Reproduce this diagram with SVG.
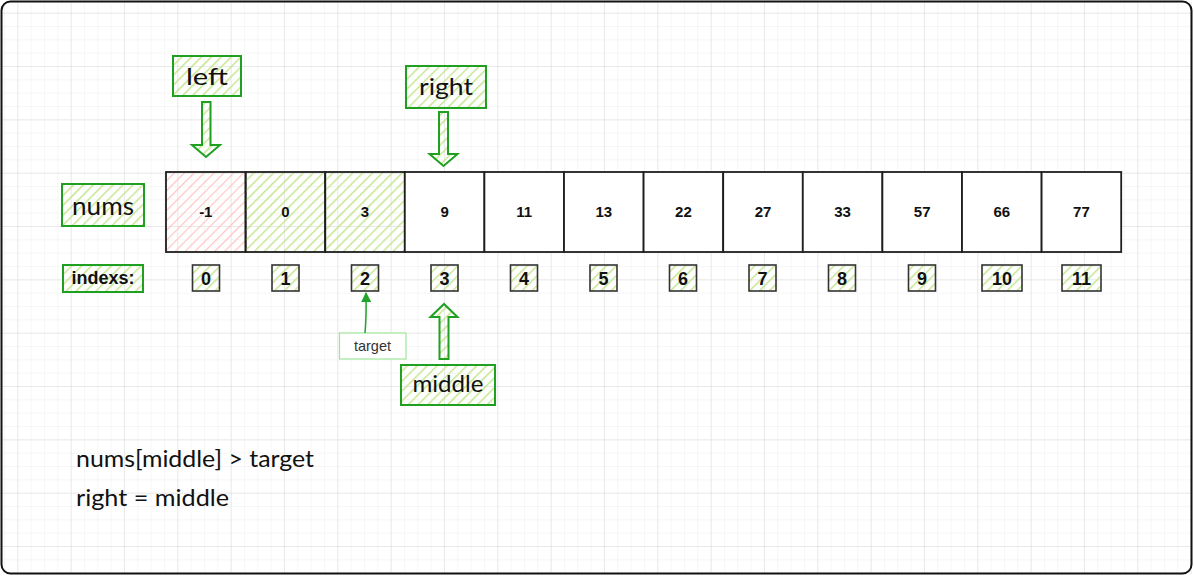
<svg xmlns="http://www.w3.org/2000/svg" width="1194" height="576" viewBox="0 0 1194 576">
<defs>
  <pattern id="gridMinor" x="17.3" y="12.7" width="13.333" height="13.333" patternUnits="userSpaceOnUse">
    <path d="M0 0 H13.333 M0 0 V13.333" fill="none" stroke="#eeeeee" stroke-width="1"/>
  </pattern>
  <pattern id="gridMajor" x="17.3" y="12.7" width="53.333" height="53.333" patternUnits="userSpaceOnUse">
    <path d="M0 0 H53.333 M0 0 V53.333" fill="none" stroke="#dcdcdc" stroke-width="1"/>
  </pattern>
  <pattern id="hatchG" width="7" height="7" patternUnits="userSpaceOnUse" patternTransform="rotate(45)">
    <line x1="0" y1="0" x2="0" y2="7" stroke="#c2e58c" stroke-width="2.8"/>
  </pattern>
  <pattern id="hatchR" width="7" height="7" patternUnits="userSpaceOnUse" patternTransform="rotate(45)">
    <line x1="0" y1="0" x2="0" y2="7" stroke="#ffc4c4" stroke-width="2.4"/>
  </pattern>
  <marker id="arrowG" viewBox="0 0 10 10" refX="9" refY="5" markerWidth="10" markerHeight="10" markerUnits="userSpaceOnUse" orient="auto">
    <path d="M0 0 L10 5 L0 10 Z" fill="#22a32a"/>
  </marker>
</defs>
<style>
  .cell { stroke: #1e1e1e; stroke-width: 1.8; }
  .lbl { fill: url(#hatchG); stroke: #20a020; stroke-width: 2; }
  .idx { fill: url(#hatchG); stroke: #333; stroke-width: 1.6; }
  .blk { fill: url(#hatchG); stroke: #20a020; stroke-width: 2; stroke-linejoin: miter; }
  .hand { font-family: "Lato", "Open Sans", sans-serif; fill: #111; }
  .val { font-family: "Liberation Sans", Arial, sans-serif; font-weight: bold; font-size: 15px; fill: #111; text-anchor: middle; }
  .num { font-family: "Liberation Sans", Arial, sans-serif; font-weight: bold; font-size: 18px; fill: #111; text-anchor: middle; }
</style>
<rect width="1194" height="576" fill="#ffffff"/>
<rect x="2" y="2" width="1190" height="572" fill="url(#gridMinor)"/>
<rect x="2" y="2" width="1190" height="572" fill="url(#gridMajor)"/>
<rect x="1.5" y="1.5" width="1190" height="572" rx="9" fill="none" stroke="#111" stroke-width="2"/>

<g id="label-nums">
  <rect class="lbl" x="62" y="184" width="82" height="42"/>
  <text class="hand" x="103" y="215" font-size="25" text-anchor="middle" textLength="62" lengthAdjust="spacingAndGlyphs">nums</text>
</g>
<g id="label-indexs">
  <rect class="lbl" x="63" y="265" width="80" height="27"/>
  <text x="103" y="284" font-family="Liberation Sans, Arial, sans-serif" font-weight="bold" font-size="18" text-anchor="middle" fill="#111">indexs:</text>
</g>

<g id="cells">
  <g id="cell-0"><rect class="cell" x="166" y="172" width="79.6" height="80" fill="url(#hatchR)"/><text class="val" x="205.8" y="217">-1</text></g>
  <g id="cell-1"><rect class="cell" x="245.6" y="172" width="79.6" height="80" fill="url(#hatchG)"/><text class="val" x="285.4" y="217">0</text></g>
  <g id="cell-2"><rect class="cell" x="325.2" y="172" width="79.6" height="80" fill="url(#hatchG)"/><text class="val" x="365" y="217">3</text></g>
  <g id="cell-3"><rect class="cell" x="404.8" y="172" width="79.6" height="80" fill="#fff"/><text class="val" x="444.6" y="217">9</text></g>
  <g id="cell-4"><rect class="cell" x="484.4" y="172" width="79.6" height="80" fill="#fff"/><text class="val" x="524.2" y="217">11</text></g>
  <g id="cell-5"><rect class="cell" x="564" y="172" width="79.6" height="80" fill="#fff"/><text class="val" x="603.8" y="217">13</text></g>
  <g id="cell-6"><rect class="cell" x="643.6" y="172" width="79.6" height="80" fill="#fff"/><text class="val" x="683.4" y="217">22</text></g>
  <g id="cell-7"><rect class="cell" x="723.2" y="172" width="79.6" height="80" fill="#fff"/><text class="val" x="763" y="217">27</text></g>
  <g id="cell-8"><rect class="cell" x="802.8" y="172" width="79.6" height="80" fill="#fff"/><text class="val" x="842.6" y="217">33</text></g>
  <g id="cell-9"><rect class="cell" x="882.4" y="172" width="79.6" height="80" fill="#fff"/><text class="val" x="922.2" y="217">57</text></g>
  <g id="cell-10"><rect class="cell" x="962" y="172" width="79.6" height="80" fill="#fff"/><text class="val" x="1001.8" y="217">66</text></g>
  <g id="cell-11"><rect class="cell" x="1041.6" y="172" width="79.6" height="80" fill="#fff"/><text class="val" x="1081.4" y="217">77</text></g>
</g>

<g id="indexes">
  <g id="idx-0"><rect class="idx" x="192.5" y="265" width="27" height="26"/><text class="num" x="206" y="285">0</text></g>
  <g id="idx-1"><rect class="idx" x="272" y="265" width="27" height="26"/><text class="num" x="285.5" y="285">1</text></g>
  <g id="idx-2"><rect class="idx" x="351.5" y="265" width="27" height="26"/><text class="num" x="365" y="285">2</text></g>
  <g id="idx-3"><rect class="idx" x="431" y="265" width="27" height="26"/><text class="num" x="444.5" y="285">3</text></g>
  <g id="idx-4"><rect class="idx" x="510.5" y="265" width="27" height="26"/><text class="num" x="524" y="285">4</text></g>
  <g id="idx-5"><rect class="idx" x="590" y="265" width="27" height="26"/><text class="num" x="603.5" y="285">5</text></g>
  <g id="idx-6"><rect class="idx" x="669.5" y="265" width="27" height="26"/><text class="num" x="683" y="285">6</text></g>
  <g id="idx-7"><rect class="idx" x="749" y="265" width="27" height="26"/><text class="num" x="762.5" y="285">7</text></g>
  <g id="idx-8"><rect class="idx" x="828.5" y="265" width="27" height="26"/><text class="num" x="842" y="285">8</text></g>
  <g id="idx-9"><rect class="idx" x="908.5" y="265" width="27" height="26"/><text class="num" x="922" y="285">9</text></g>
  <g id="idx-10"><rect class="idx" x="982" y="265" width="40" height="26"/><text class="num" x="1002" y="285">10</text></g>
  <g id="idx-11"><rect class="idx" x="1062" y="265" width="39" height="26"/><text class="num" x="1081.5" y="285">11</text></g>
</g>

<g id="label-left">
  <rect class="lbl" x="173" y="56" width="68" height="40"/>
  <text class="hand" x="207" y="85" font-size="24" text-anchor="middle" textLength="42" lengthAdjust="spacingAndGlyphs">left</text>
</g>
<g id="label-right">
  <rect class="lbl" x="406" y="66" width="80" height="42"/>
  <text class="hand" x="446" y="95" font-size="24" text-anchor="middle" textLength="54" lengthAdjust="spacingAndGlyphs">right</text>
</g>
<g id="label-middle">
  <rect class="lbl" x="401" y="365" width="94" height="40"/>
  <text class="hand" x="448" y="392" font-size="24" text-anchor="middle" textLength="71" lengthAdjust="spacingAndGlyphs">middle</text>
</g>
<g id="label-target">
  <rect x="339.5" y="333" width="66.5" height="26" fill="#fff" stroke="#9de79d" stroke-width="1.2"/>
  <text x="372.5" y="350.5" font-family="Liberation Sans, Arial, sans-serif" font-size="14.5" text-anchor="middle" fill="#333">target</text>
</g>

<g id="connectors">
  <path class="blk" d="M202 102 L210.5 102 L210.5 145 L220 145 L206 157 L192 145 L202 145 Z"/>
  <path class="blk" d="M439 112 L448 112 L448 154 L457.5 154 L443.5 166 L429.5 154 L439 154 Z"/>
  <path class="blk" d="M439.5 359 L448.5 359 L448.5 317 L457.5 317 L444 304 L430.5 317 L439.5 317 Z"/>
  <path d="M365 333 Q366.5 318 366 293" fill="none" stroke="#22a32a" stroke-width="1.5" marker-end="url(#arrowG)"/>
</g>

<g id="notes">
  <text class="hand" x="76" y="467" font-size="23" textLength="238" lengthAdjust="spacingAndGlyphs">nums[middle] &gt; target</text>
  <text class="hand" x="76" y="506" font-size="23" textLength="153" lengthAdjust="spacingAndGlyphs">right = middle</text>
</g>
</svg>
